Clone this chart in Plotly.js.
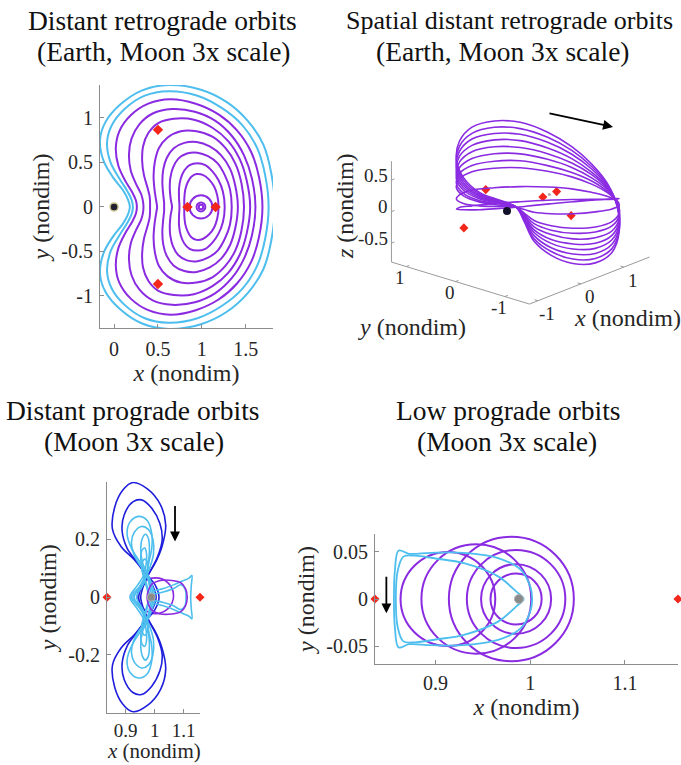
<!DOCTYPE html>
<html><head><meta charset="utf-8">
<script src="https://cdn.plot.ly/plotly-3.0.1.min.js"></script>
<style>body{margin:0;background:#fff}#chart{width:681px;height:765px}</style>
</head><body><div id="chart"></div>
<script>
// ---------- Panel 1: planar DROs (upper halves, right y=0 -> left y=0; orbits are symmetric in y) ----------
const droBlue1X = [1.83,1.79,1.70,1.52,1.28,0.98,0.62,0.32,0.07,-0.10,-0.16,-0.12,-0.01,0.10,0.16,0.18];
const droBlue1Y = [0,0.38,0.70,0.97,1.18,1.32,1.37,1.31,1.15,0.95,0.75,0.52,0.33,0.19,0.08,0];
const droBlue2X = [1.76,1.72,1.63,1.46,1.23,0.95,0.62,0.35,0.12,-0.03,-0.08,-0.04,0.06,0.15,0.20,0.215];
const droBlue2Y = [0,0.36,0.66,0.92,1.11,1.25,1.30,1.25,1.10,0.91,0.72,0.50,0.32,0.18,0.08,0];
const droP1X = [1.69,1.65,1.56,1.40,1.19,0.93,0.64,0.39,0.19,0.06,0.02,0.05,0.13,0.21,0.25,0.26];
const droP1Y = [0,0.34,0.62,0.86,1.04,1.16,1.21,1.16,1.03,0.85,0.66,0.46,0.29,0.16,0.07,0];
const droP2X = [1.61,1.57,1.48,1.34,1.15,0.92,0.66,0.44,0.29,0.20,0.17,0.19,0.25,0.31,0.33,0.335];
const droP2Y = [0,0.32,0.58,0.80,0.97,1.07,1.10,1.05,0.93,0.77,0.59,0.41,0.26,0.14,0.06,0];
const droP3X = [1.55,1.51,1.43,1.30,1.12,0.91,0.68,0.50,0.39,0.33,0.32,0.34,0.38,0.405,0.41,0.41];
const droP3Y = [0,0.30,0.54,0.74,0.89,0.98,0.99,0.94,0.83,0.68,0.52,0.36,0.22,0.12,0.05,0];
const droP4X = [1.48,1.45,1.38,1.27,1.12,0.94,0.76,0.61,0.51,0.465,0.45,0.46,0.475,0.485,0.49];
const droP4Y = [0,0.27,0.49,0.66,0.79,0.85,0.85,0.78,0.66,0.51,0.35,0.20,0.10,0.04,0];
const droP5X = [1.41,1.38,1.32,1.22,1.09,0.94,0.80,0.68,0.60,0.56,0.55,0.56,0.57,0.57];
const droP5Y = [0,0.24,0.43,0.58,0.68,0.73,0.72,0.66,0.55,0.42,0.28,0.14,0.05,0];
const droP6X = [1.34,1.32,1.26,1.18,1.07,0.95,0.83,0.73,0.67,0.64,0.635,0.645,0.66];
const droP6Y = [0,0.20,0.36,0.49,0.57,0.61,0.60,0.54,0.44,0.32,0.20,0.09,0];
const droP7X = [1.26,1.24,1.19,1.12,1.04,0.95,0.86,0.80,0.76,0.74,0.74,0.745];
const droP7Y = [0,0.17,0.30,0.40,0.47,0.49,0.47,0.41,0.32,0.21,0.10,0];
const droP8X = [1.19,1.175,1.14,1.08,1.01,0.94,0.88,0.84,0.81,0.80,0.80];
const droP8Y = [0,0.13,0.23,0.31,0.36,0.37,0.34,0.28,0.19,0.09,0];
// small near-Moon DROs (nearly circular): centre x and radius
const droSmallCX = [0.99,0.99,0.99];
const droSmallR  = [0.13,0.05,0.025];
// libration points (Earth-Moon)
const libX = [0.836,1.156,0.5,0.5];
const libY = [0,0,0.866,-0.866];
const earthXY = [0,0];

// ---------- Panel 2: spatial DROs (x, y outline shared, z per orbit) ----------
const sdroX = [0.22,0.12,0.00,0.02,0.20,0.50,0.85,1.20,1.48,1.66,1.74,1.72,1.62,1.42,1.12,0.78,0.45,0.18,0.02,0.00,0.12,0.22];
const sdroY = [0,0.25,0.55,0.90,1.20,1.40,1.45,1.30,1.02,0.62,0.20,-0.22,-0.62,-1.00,-1.30,-1.45,-1.40,-1.18,-0.88,-0.55,-0.25,0];
const sdroZ1 = [0.00,0.08,0.16,0.31,0.48,0.64,0.76,0.80,0.77,0.66,0.51,0.34,0.16,-0.07,-0.32,-0.52,-0.61,-0.60,-0.50,-0.35,-0.15,0.00];
const sdroZ2 = [0.00,0.07,0.14,0.27,0.42,0.56,0.66,0.70,0.67,0.58,0.45,0.30,0.14,-0.06,-0.29,-0.46,-0.54,-0.53,-0.44,-0.31,-0.13,0.00];
const sdroZ3 = [0.00,0.06,0.12,0.23,0.36,0.48,0.57,0.60,0.58,0.50,0.39,0.26,0.12,-0.05,-0.25,-0.39,-0.46,-0.45,-0.38,-0.26,-0.11,0.00];
const sdroZ4 = [0.00,0.05,0.10,0.19,0.30,0.40,0.47,0.50,0.48,0.41,0.32,0.21,0.10,-0.04,-0.20,-0.32,-0.38,-0.37,-0.31,-0.21,-0.09,0.00];
const sdroZ5 = [0.00,0.04,0.08,0.15,0.23,0.31,0.37,0.39,0.37,0.32,0.25,0.17,0.08,-0.03,-0.16,-0.25,-0.30,-0.29,-0.25,-0.17,-0.07,0.00];
const sdroZ6 = [0.00,0.03,0.06,0.11,0.17,0.22,0.26,0.28,0.27,0.23,0.18,0.12,0.06,-0.02,-0.11,-0.18,-0.21,-0.21,-0.17,-0.12,-0.05,0.00];
const sdroZ7 = [0.00,0.02,0.03,0.06,0.10,0.13,0.15,0.16,0.16,0.13,0.10,0.07,0.03,-0.01,-0.06,-0.10,-0.12,-0.12,-0.10,-0.07,-0.03,0.00];
const sdroZ8 = [0.00,0.00,0.01,0.02,0.03,0.04,0.05,0.05,0.05,0.04,0.03,0.02,0.01,0.00,-0.02,-0.03,-0.04,-0.04,-0.03,-0.02,-0.01,0.00];
const sdroZ9 = [0.00,-0.02,-0.05,-0.10,-0.15,-0.21,-0.24,-0.26,-0.25,-0.21,-0.16,-0.11,-0.05,0.02,0.10,0.17,0.20,0.19,0.16,0.11,0.05,0.00];
const sdroZ10 = [0.00,-0.05,-0.11,-0.20,-0.31,-0.41,-0.49,-0.51,-0.49,-0.42,-0.33,-0.22,-0.10,0.05,0.21,0.33,0.39,0.38,0.32,0.22,0.10,0.00];
const lib3X = [0.836,1.156,-1.005,0.5,0.5];
const lib3Y = [0,0,0,0.866,-0.866];
const lib3Z = [0,0,0,0,0];
const moon3 = [0.988,0,0];
const sAxX = [-1.2,1.6], sAxY = [-1.5,1.3], sAxZ = [-0.8,0.8];
const sTickXY = [-1,0,1], sTickZ = [-0.5,0,0.5];
const sTickXYText = ['-1','0','1'], sTickZText = ['-0.5','0','0.5'];

// ---------- Panel 3: distant prograde orbits (upper halves; symmetric in y) ----------
const dpoDark1X = [1.015,1.0,0.975,0.93,0.885,0.855,0.862,0.89,0.925,0.975,1.02,1.038,1.025,1.0,0.975,0.957,0.945];
const dpoDark1Y = [0,0.045,0.075,0.13,0.175,0.235,0.31,0.37,0.397,0.375,0.32,0.25,0.175,0.115,0.075,0.04,0];
const dpoDark2X = [1.005,0.993,0.975,0.94,0.905,0.888,0.895,0.925,0.955,0.99,1.018,1.026,1.01,0.99,0.975,0.96,0.952];
const dpoDark2Y = [0,0.04,0.07,0.12,0.17,0.23,0.285,0.33,0.337,0.308,0.255,0.2,0.14,0.1,0.07,0.035,0];
const dpoLight1X = [0.995,0.985,0.972,0.95,0.92,0.905,0.915,0.945,0.975,0.99,0.99,0.98,0.972,0.955,0.93];
const dpoLight1Y = [0,0.045,0.08,0.12,0.17,0.22,0.26,0.28,0.265,0.22,0.17,0.12,0.08,0.045,0];
const dpoLight2X = [0.99,0.982,0.972,0.958,0.952,0.958,0.968,0.978,0.982,0.978,0.972,0.95,0.92];
const dpoLight2Y = [0,0.04,0.085,0.12,0.17,0.205,0.218,0.205,0.16,0.12,0.085,0.04,0];
const dpoLight3X = [0.985,0.975,0.965,0.955,0.952,0.958,0.966,0.972,0.97,0.962,0.94,0.915];
const dpoLight3Y = [0,0.035,0.07,0.11,0.14,0.165,0.17,0.15,0.11,0.075,0.04,0];
const dpoLight4X = [0.98,0.972,0.962,0.955,0.957,0.966,0.975,0.976,0.97,0.955,0.925];
const dpoLight4Y = [0,0.035,0.07,0.1,0.12,0.132,0.12,0.095,0.07,0.035,0];
const dpoLight5X = [1.0,0.99,0.975,0.95,0.928,0.92,0.93,0.955,0.978,0.994,0.996,0.986,0.975,0.958,0.938];
const dpoLight5Y = [0,0.045,0.08,0.11,0.15,0.19,0.225,0.245,0.235,0.2,0.15,0.11,0.08,0.04,0];
const dpoCupAX = [0.99,1.03,1.07,1.10,1.118,1.128,1.126,1.124];
const dpoCupAY = [0.02,0.03,0.045,0.058,0.066,0.075,0.04,0];
const dpoCupBX = [0.99,1.03,1.065,1.09,1.104,1.108];
const dpoCupBY = [0.01,0.018,0.03,0.043,0.03,0];
const dpoPurpleBX = [1.112,1.106,1.09,1.06,1.02,0.99,0.977,0.974];
const dpoPurpleBY = [0,0.03,0.05,0.058,0.058,0.045,0.02,0];
const dpoPurpleCX = [1.003];
const dpoPurpleR = [0.062];
const moonX = [0.988];
const moonY = [0];
const lib12X = [0.836,1.156];
const lib12Y = [0,0];

// ---------- Panel 4: low prograde orbits ----------
const lpoBlueOuterX = [1.002,1.0,0.99,0.966,0.93,0.895,0.872,0.861,0.857,0.856];
const lpoBlueOuterY = [0,0.013,0.031,0.0435,0.049,0.049,0.048,0.0515,0.03,0];
const lpoBlueInnerX = [0.993,0.985,0.966,0.93,0.9,0.878,0.866,0.86,0.858];
const lpoBlueInnerY = [0,0.008,0.024,0.038,0.043,0.046,0.045,0.03,0];
const lpoCX = [0.913,0.943,0.980,0.985,0.985,0.985];
const lpoR  = [0.050,0.058,0.066,0.052,0.037,0.027];

// ---------- helpers ----------
const LB = '#4DBEEE', PU = '#8A2BE2', DB = '#1E1EDC', RED = '#F2261B';
const FONT = 'Liberation Serif, Times New Roman, serif';
function sym(xs, ys) {
  return {x: xs.concat(xs.slice(0, -1).reverse()),
          y: ys.concat(ys.slice(0, -1).reverse().map(v => -v))};
}
function orbit(xs, ys, color, xa, ya, w) {
  const p = sym(xs, ys);
  return {type:'scatter', mode:'lines', x:p.x, y:p.y, xaxis:xa, yaxis:ya,
          line:{color:color, width:w||2, shape:'spline', smoothing:1}, hoverinfo:'skip'};
}
// orthographic view of the 3-D axes box (drawn on a hidden 2-D page axis): page pixels per data unit
const VIEW = {ux:42.9, uy:-49.3, wx:16.8, wy:15.0, wz:63.0};
function pu(x,y){ return VIEW.ux*x + VIEW.uy*y; }
function pw(x,y,z){ return VIEW.wx*x + VIEW.wy*y + VIEW.wz*z; }

const traces = [];
// panel 1
[[droBlue1X,droBlue1Y,LB],[droBlue2X,droBlue2Y,LB],[droP1X,droP1Y,PU],[droP2X,droP2Y,PU],
 [droP3X,droP3Y,PU],[droP4X,droP4Y,PU],[droP5X,droP5Y,PU],[droP6X,droP6Y,PU],
 [droP7X,droP7Y,PU],[droP8X,droP8Y,PU]].forEach(o => traces.push(orbit(o[0],o[1],o[2],'x','y')));
traces.push({type:'scatter',mode:'markers',x:[earthXY[0]],y:[earthXY[1]],xaxis:'x',yaxis:'y',
  marker:{size:8,color:'#202030',line:{color:'#c9c08a',width:1.5}},cliponaxis:false});
traces.push({type:'scatter',mode:'markers',x:libX,y:libY,xaxis:'x',yaxis:'y',
  marker:{symbol:'diamond',size:8,color:RED},cliponaxis:false});
// panel 3
[[dpoDark1X,dpoDark1Y,DB],[dpoDark2X,dpoDark2Y,DB],[dpoLight1X,dpoLight1Y,LB],[dpoLight2X,dpoLight2Y,LB],
 [dpoLight3X,dpoLight3Y,LB],[dpoLight4X,dpoLight4Y,LB],[dpoLight5X,dpoLight5Y,LB],
 [dpoCupAX,dpoCupAY,LB],[dpoCupBX,dpoCupBY,LB],[dpoPurpleBX,dpoPurpleBY,PU]]
 .forEach(o => traces.push(orbit(o[0],o[1],o[2],'x2','y2',1.6)));
traces.push({type:'scatter',mode:'markers',x:moonX,y:moonY,xaxis:'x2',yaxis:'y2',
  marker:{size:8,color:'#8a8a8a',line:{color:'#b0b0b0',width:1}}});
traces.push({type:'scatter',mode:'markers',x:lib12X,y:lib12Y,xaxis:'x2',yaxis:'y2',
  marker:{symbol:'diamond',size:7,color:RED},cliponaxis:false});
// panel 4
traces.push(orbit(lpoBlueOuterX,lpoBlueOuterY,LB,'x3','y3',1.8));
traces.push(orbit(lpoBlueInnerX,lpoBlueInnerY,LB,'x3','y3',1.8));
traces.push({type:'scatter',mode:'markers',x:moonX,y:moonY,xaxis:'x3',yaxis:'y3',
  marker:{size:9,color:'#8a8a8a',line:{color:'#b0b0b0',width:1}}});
traces.push({type:'scatter',mode:'markers',x:lib12X,y:lib12Y,xaxis:'x3',yaxis:'y3',
  marker:{symbol:'diamond',size:7,color:RED},cliponaxis:false});

// panel 2: axes box lines and ticks
(function(){
  const x0=sAxX[0], x1=sAxX[1], y0=sAxY[0], y1=sAxY[1], z0=sAxZ[0], z1=sAxZ[1];
  const bx=[pu(x1,y0),pu(x0,y0),pu(x0,y1),pu(x0,y1)];
  const by=[pw(x1,y0,z0),pw(x0,y0,z0),pw(x0,y1,z0),pw(x0,y1,z1)];
  traces.push({type:'scatter',mode:'lines',x:bx,y:by,xaxis:'x4',yaxis:'y4',line:{color:'#9a9a9a',width:1},hoverinfo:'skip'});
  const tx=[], ty=[];
  sTickXY.forEach(v=>{ tx.push(pu(v,y0),pu(v,y0+0.07),null); ty.push(pw(v,y0,z0),pw(v,y0+0.07,z0),null); });
  sTickXY.forEach(v=>{ tx.push(pu(x0,v),pu(x0+0.07,v),null); ty.push(pw(x0,v,z0),pw(x0+0.07,v,z0),null); });
  sTickZ.forEach(v=>{ tx.push(pu(x0,y1),pu(x0+0.07,y1),null); ty.push(pw(x0,y1,v),pw(x0+0.07,y1,v),null); });
  traces.push({type:'scatter',mode:'lines',x:tx,y:ty,xaxis:'x4',yaxis:'y4',line:{color:'#9a9a9a',width:1},hoverinfo:'skip'});
})();
traces.push({type:'scatter',mode:'markers',x:lib3X.map((v,i)=>pu(v,lib3Y[i])),y:lib3X.map((v,i)=>pw(v,lib3Y[i],lib3Z[i])),
  xaxis:'x4',yaxis:'y4',marker:{symbol:'diamond',size:7,color:RED},cliponaxis:false});
traces.push({type:'scatter',mode:'markers',x:[pu(moon3[0],moon3[1])],y:[pw(moon3[0],moon3[1],moon3[2])],
  xaxis:'x4',yaxis:'y4',marker:{size:3,color:'#aaaaaa'},cliponaxis:false});
[sdroZ1,sdroZ2,sdroZ3,sdroZ4,sdroZ5,sdroZ6,sdroZ7,sdroZ8,sdroZ9,sdroZ10].forEach(z => traces.push({
  type:'scatter',mode:'lines',x:sdroX.map((v,i)=>pu(v,sdroY[i])),y:sdroX.map((v,i)=>pw(v,sdroY[i],z[i])),
  xaxis:'x4',yaxis:'y4',line:{color:PU,width:1.6,shape:'spline',smoothing:1},hoverinfo:'skip'}));
traces.push({type:'scatter',mode:'markers',x:[pu(earthXY[0],earthXY[1])],y:[pw(earthXY[0],earthXY[1],0)],
  xaxis:'x4',yaxis:'y4',marker:{size:8,color:'#101028'},cliponaxis:false});

// shapes: near-circular orbits
const shapes = [];
droSmallCX.forEach((c,i) => shapes.push({type:'circle',xref:'x',yref:'y',x0:c-droSmallR[i],x1:c+droSmallR[i],
  y0:-droSmallR[i],y1:droSmallR[i],line:{color:PU,width:2},layer:'below'}));
dpoPurpleCX.forEach((c,i) => shapes.push({type:'circle',xref:'x2',yref:'y2',x0:c-dpoPurpleR[i],x1:c+dpoPurpleR[i],
  y0:-dpoPurpleR[i]+0.005,y1:dpoPurpleR[i]+0.005,line:{color:PU,width:1.6},layer:'below'}));
lpoCX.forEach((c,i) => shapes.push({type:'circle',xref:'x3',yref:'y3',x0:c-lpoR[i],x1:c+lpoR[i],
  y0:-lpoR[i],y1:lpoR[i],line:{color:PU,width:2},layer:'below'}));

const W = 681, H = 765;
const px = v => v / W, py = v => 1 - v / H;
const axLine = {showline:true, linecolor:'#8c8c8c', linewidth:1, ticks:'inside', ticklen:4, tickcolor:'#8c8c8c',
  showgrid:false, zeroline:false, tickfont:{family:FONT,size:20,color:'#262626'}, fixedrange:true};
function ax(extra){ return Object.assign({}, axLine, extra); }
const tFont = {family:FONT,size:24,color:'#262626'};

const annotations = [];
function title(x, y, t, s){ annotations.push({xref:'paper',yref:'paper',x:px(x),y:py(y),text:t,showarrow:false,
  xanchor:'center',yanchor:'middle',font:{family:FONT,size:s||27.5,color:'#111'}}); }
title(162,20,'Distant retrograde orbits'); title(164,52,'(Earth, Moon 3x scale)');
title(509,20,'Spatial distant retrograde orbits',26); title(503,52,'(Earth, Moon 3x scale)');
title(133,410,'Distant prograde orbits'); title(134,442,'(Moon 3x scale)');
title(508,410,'Low prograde orbits'); title(507,442,'(Moon 3x scale)');
function arrow(xr,yr,x,y,axp,ayp){ annotations.push({xref:xr,yref:yr,x:x,y:y,ax:axp,ay:ayp,text:'',showarrow:true,
  arrowhead:2,arrowsize:1.1,arrowwidth:1.8,arrowcolor:'#000'}); }
arrow('x','y',1.91,-0.17,0,-38);
arrow('x2','y2',1.07,0.193,0,-37);
arrow('x3','y3',0.848,-0.0152,0,-38);
arrow('x4','y4',613-507,211-127,-65,-14);
// panel 3 x-axis title (placed below its tick labels, inside the page)
annotations.push({xref:'paper',yref:'paper',x:px(153.5),y:py(751),text:'<i>x</i> (nondim)',showarrow:false,
  xanchor:'center',yanchor:'middle',font:{family:FONT,size:21,color:'#262626'}});
// panel 2 tick labels and axis titles
const lblFont = {family:FONT,size:19,color:'#262626'};
sTickXY.forEach((v,i)=>annotations.push({xref:'x4',yref:'y4',x:pu(v,sAxY[0]),y:pw(v,sAxY[0],sAxZ[0]),text:sTickXYText[i],
  showarrow:false,xshift:9,yshift:-13,font:lblFont}));
sTickXY.forEach((v,i)=>annotations.push({xref:'x4',yref:'y4',x:pu(sAxX[0],v),y:pw(sAxX[0],v,sAxZ[0]),text:sTickXYText[i],
  showarrow:false,xshift:-6,yshift:-11,font:lblFont}));
sTickZ.forEach((v,i)=>annotations.push({xref:'x4',yref:'y4',x:pu(sAxX[0],sAxY[1]),y:pw(sAxX[0],sAxY[1],v),text:sTickZText[i],
  showarrow:false,xanchor:'right',xshift:-1,yshift:5,font:lblFont}));
annotations.push({xref:'x4',yref:'y4',x:pu(0.2,sAxY[0]),y:pw(0.2,sAxY[0],sAxZ[0]),text:'<i>x</i> (nondim)',
  showarrow:false,xshift:38,yshift:-37,font:tFont});
annotations.push({xref:'x4',yref:'y4',x:pu(sAxX[0],-0.1),y:pw(sAxX[0],-0.1,sAxZ[0]),text:'<i>y</i> (nondim)',
  showarrow:false,xshift:-48,yshift:-44,font:tFont});
annotations.push({xref:'x4',yref:'y4',x:pu(sAxX[0],sAxY[1]),y:pw(sAxX[0],sAxY[1],0),text:'<i>z</i> (nondim)',
  showarrow:false,textangle:-90,xshift:-47,yshift:6,font:tFont});

const layout = {
  width:W, height:H, margin:{l:0,r:0,t:0,b:0}, paper_bgcolor:'#fff', plot_bgcolor:'rgba(0,0,0,0)',
  showlegend:false, shapes:shapes, annotations:annotations,
  xaxis: ax({domain:[px(100),px(273)], range:[-0.16,1.81], anchor:'y', tickvals:[0,0.5,1,1.5], ticktext:['0','0.5','1','1.5'],
    ticklabelstandoff:3, title:{text:'<i>x</i> (nondim)', font:tFont, standoff:3}}),
  yaxis: ax({domain:[py(328),py(85)], range:[-1.36,1.37], anchor:'x', tickvals:[-1,-0.5,0,0.5,1], ticktext:['-1','-0.5','0','0.5','1'],
    ticklabelstandoff:2, title:{text:'<i>y</i> (nondim)', font:tFont, standoff:4}}),
  xaxis2: ax({domain:[px(107),px(200)], range:[0.836,1.156], anchor:'y2', tickvals:[0.9,1,1.1], ticktext:['0.9','1','1.1'],
    ticklabelstandoff:0, tickfont:{family:FONT,size:19,color:'#262626'}}),
  yaxis2: ax({domain:[py(712.7),py(481.7)], range:[-0.4,0.4], anchor:'x2', tickvals:[-0.2,0,0.2], ticktext:['-0.2','0','0.2'],
    ticklabelstandoff:2, title:{text:'<i>y</i> (nondim)', font:tFont, standoff:4}}),
  xaxis3: ax({domain:[px(375),px(678)], range:[0.836,1.156], anchor:'y3', tickvals:[0.9,1,1.1], ticktext:['0.9','1','1.1'],
    ticklabelstandoff:1, title:{text:'<i>x</i> (nondim)', font:tFont, standoff:2}}),
  yaxis3: ax({domain:[py(664),py(534)], range:[-0.069,0.069], anchor:'x3', tickvals:[-0.05,0,0.05], ticktext:['-0.05','0','0.05'],
    ticklabelstandoff:2, title:{text:'<i>y</i> (nondim)', font:tFont, standoff:4}}),
  xaxis4: {domain:[px(330),1], range:[330-507,681-507], anchor:'y4', visible:false, fixedrange:true},
  yaxis4: {domain:[py(345),py(90)], range:[211-345,211-90], anchor:'x4', visible:false, fixedrange:true}
};
Plotly.newPlot('chart', traces, layout, {staticPlot:true, displayModeBar:false});
</script></body></html>
